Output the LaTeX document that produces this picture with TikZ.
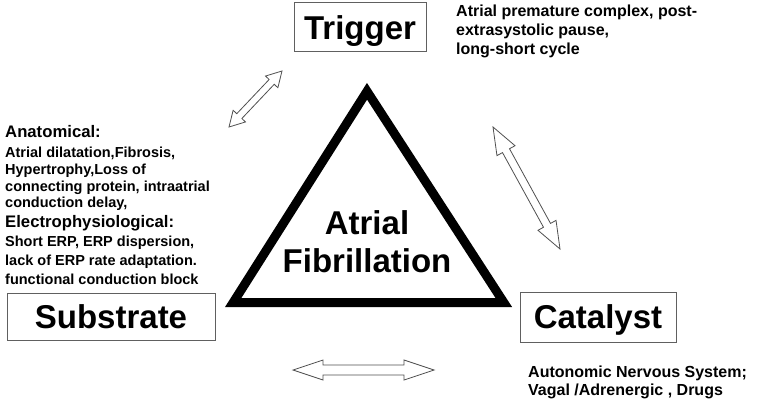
\documentclass[tikz,border=0pt]{standalone}
\usepackage{fontspec}
\setmainfont{Liberation Sans}
\usetikzlibrary{calc}
\definecolor{boxgray}{HTML}{606060}
\definecolor{arrgray}{HTML}{505050}
\tikzset{
  bigbox/.style={draw=boxgray, line width=1pt, fill=white, inner sep=0pt,
    font=\bfseries\fontsize{33}{38}\selectfont, text height=23.6pt, text depth=0pt},
  big/.style={inner sep=0pt, align=center, font=\bfseries\fontsize{33}{38}\selectfont},
  desc/.style={inner sep=0pt, anchor=base west, font=\bfseries\fontsize{16}{19}\selectfont},
  head/.style={inner sep=0pt, anchor=base west, font=\bfseries\fontsize{16.7}{19}\selectfont},
  small/.style={inner sep=0pt, anchor=base west, font=\bfseries\fontsize{14.5}{17}\selectfont},
  arrowline/.style={draw=arrgray, line width=0.8pt, fill=white, line join=miter},
  tri/.style={draw=black, line width=9pt, fill=white, line join=miter}
}
% hollow double arrow between named coordinates #1 and #2
% #3 shaft half-width, #4 head half-width, #5 head length
\newcommand\hollowdbl[5]{%
  \coordinate (#1-h) at ($(#1)!#5!(#2)$);
  \coordinate (#2-h) at ($(#2)!#5!(#1)$);
  \draw[arrowline] (#1)
    -- ($(#1-h)!#4!-90:(#1)$) -- ($(#1-h)!#3!-90:(#1)$)
    -- ($(#2-h)!#3!90:(#2)$) -- ($(#2-h)!#4!90:(#2)$)
    -- (#2)
    -- ($(#2-h)!#4!-90:(#2)$) -- ($(#2-h)!#3!-90:(#2)$)
    -- ($(#1-h)!#3!90:(#1)$) -- ($(#1-h)!#4!90:(#1)$)
    -- cycle;
}
\begin{document}
\begin{tikzpicture}[x=1pt, y=-1pt]
\useasboundingbox (0,0) rectangle (760,404);
\fill[white] (0,0) rectangle (760,404);

% central triangle
\coordinate (apex) at (367,91.3);
\coordinate (bl) at (233.2,302.5);
\coordinate (br) at (503.8,302.5);
\draw[tri] (apex) -- (br) -- (bl) -- cycle;
\node[big] (af) at (367,242) {Atrial\\Fibrillation};

% boxes
\node[bigbox, minimum width=132pt, minimum height=49pt] (trigger) at (360,27.5) {Trigger};
\node[bigbox, minimum width=208pt, minimum height=47pt] (substrate) at (111,316.5) {Substrate};
\node[bigbox, minimum width=156pt, minimum height=50pt] (catalyst) at (598,317) {Catalyst};

% trigger description
\node[desc] (t1) at (456,17) {Atrial premature complex, post-};
\node[desc] (t2) at (456,36) {extrasystolic pause,};
\node[desc] (t3) at (456,55) {long-short cycle};

% substrate description
\node[head]  (s1) at (5,137) {Anatomical:};
\node[small] (s2) at (5,157) {Atrial dilatation,Fibrosis,};
\node[small] (s3) at (5,174) {Hypertrophy,Loss of};
\node[small] (s4) at (5,191) {connecting protein, intraatrial};
\node[small] (s5) at (5,207) {conduction delay,};
\node[head]  (s6) at (5,227) {Electrophysiological:};
\node[small] (s7) at (5,246) {Short ERP, ERP dispersion,};
\node[small] (s8) at (5,265) {lack of ERP rate adaptation.};
\node[small] (s9) at (5,284) {functional conduction block};

% catalyst description
\node[desc] (c1) at (528,377) {Autonomic Nervous System;};
\node[desc] (c2) at (528,395) {Vagal /Adrenergic , Drugs};

% hollow double arrows
\coordinate (ula) at (282,71);
\coordinate (ulb) at (229,127);
\hollowdbl{ula}{ulb}{3.5pt}{8.5pt}{15pt}
\coordinate (ra) at (493,127);
\coordinate (rb) at (560,249);
\hollowdbl{ra}{rb}{4pt}{10.3pt}{27pt}
\coordinate (ba) at (293,370);
\coordinate (bb) at (434,370);
\hollowdbl{ba}{bb}{5pt}{10pt}{30pt}
\end{tikzpicture}
\end{document}
